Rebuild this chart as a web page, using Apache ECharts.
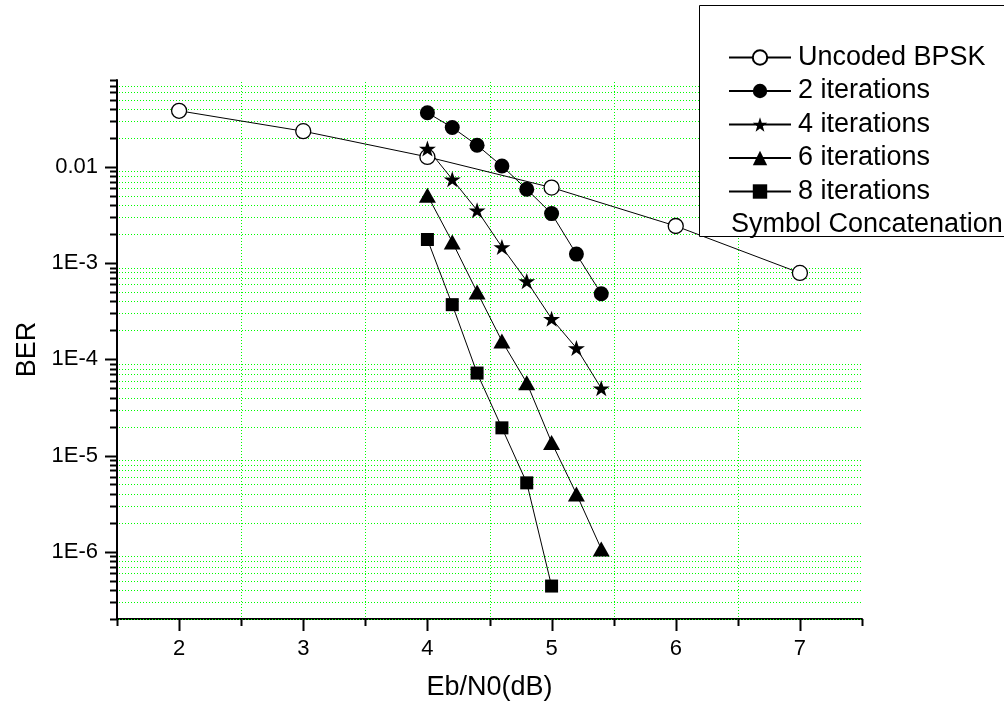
<!DOCTYPE html>
<html>
<head>
<meta charset="utf-8">
<script src="https://cdn.jsdelivr.net/npm/echarts@6/dist/echarts.min.js"></script>
<style>
  html, body { margin: 0; padding: 0; background: #fff; }
  #chart-container { width: 1004px; height: 707px; }
</style>
</head>
<body>
<div id="chart-container"></div>
<script>
// datos (Eb/N0 en dB, BER)
const ebnoBpsk = [2, 3, 4, 5, 6, 7];
const berBpsk = [0.0383, 0.0235, 0.0127, 0.0061, 0.00243, 0.00079];

const ebnoIter = [4, 4.2, 4.4, 4.6, 4.8, 5, 5.2, 5.4];
const ber2 = [0.0365, 0.0257, 0.0168, 0.0102, 0.00586, 0.00327, 0.00124, 0.00048];
const ber4 = [0.0155, 0.00744, 0.00354, 0.00147, 0.00065, 0.000264, 0.000131, 0.00005];
const ber6 = [0.00508, 0.00166, 0.0005, 0.000155, 0.000057, 0.0000137, 0.00000399, 0.00000107];
const ebno8 = [4, 4.2, 4.4, 4.6, 4.8, 5];
const ber8 = [0.00176, 0.00037, 0.000072, 0.0000194, 0.0000052, 0.00000044];

const seriesNames = ['Uncoded BPSK', '2 iterations', '4 iterations', '6 iterations', '8 iterations'];

// ejes
const xMin = 1.5, xMax = 7.5;
const yMin = 2e-7, yMax = 0.08;
const xMajorTicks = [2, 3, 4, 5, 6, 7];
const xMinorTicks = [1.5, 2.5, 3.5, 4.5, 5.5, 6.5, 7.5];
const yDecades = [1e-7, 1e-6, 1e-5, 1e-4, 1e-3, 1e-2];
const yMajorTicks = [1e-6, 1e-5, 1e-4, 1e-3, 1e-2];
const yMultipliers = [2, 3, 4, 5, 6, 7, 8, 9];

const font = 'Liberation Sans';
const gridGreen = '#00ff00';
const starPath = 'path://M50,0 L61.8,35.1 L98.1,35.1 L68.8,56.7 L79.4,91 L50,70 L20.6,91 L31.2,56.7 L1.9,35.1 L38.2,35.1 Z';

// ticks menores del eje log (2..9 x decada) dentro del rango
const yMinorTicks = [];
yDecades.forEach(d => {
  yMultipliers.forEach(m => {
    const v = +(d * m).toPrecision(3);
    if (v >= yMin && v <= yMax) yMinorTicks.push(v);
  });
});

const zip = (xs, ys) => xs.map((x, i) => [x, ys[i]]);

let myChart = echarts.init(document.getElementById('chart-container'), null, {
  renderer: 'canvas'
});

// Linea de tick + rejilla punteada para el eje Y
function yTickRender(len, withGrid) {
  return function (params, api) {
    const v = api.value(1);
    const p0 = api.coord([xMin, v]);
    const p1 = api.coord([xMax, v]);
    const y = Math.round(p0[1]) + 0.5;
    const children = [{
      type: 'line',
      shape: { x1: p0[0] - len, y1: y, x2: p0[0], y2: y },
      style: { stroke: '#000', lineWidth: 2 }
    }];
    if (withGrid && v < yMax) {
      children.push({
        type: 'line',
        shape: { x1: p0[0] + 2, y1: y, x2: p1[0], y2: y },
        style: { stroke: gridGreen, lineWidth: 1, lineDash: [1, 2] }
      });
    }
    return { type: 'group', children: children };
  };
}

// Tick + rejilla vertical para el eje X
function xTickRender(len, withGrid) {
  return function (params, api) {
    const v = api.value(0);
    const p0 = api.coord([v, yMin]);
    const p1 = api.coord([v, yMax]);
    const x = Math.round(p0[0]) + 0.5;
    const children = [{
      type: 'line',
      shape: { x1: x, y1: p0[1], x2: x, y2: p0[1] + len },
      style: { stroke: '#000', lineWidth: 2 }
    }];
    if (withGrid && v > xMin && v < xMax) {
      children.push({
        type: 'line',
        shape: { x1: x, y1: p0[1] - 2, x2: x, y2: p1[1] },
        style: { stroke: gridGreen, lineWidth: 1, lineDash: [1, 2] }
      });
    }
    return { type: 'group', children: children };
  };
}

function tickSeries(data, render) {
  return {
    type: 'custom',
    silent: true,
    z: 1,
    clip: false,
    data: data,
    renderItem: render,
    legendHoverLink: false
  };
}

function dataSeries(name, xs, ys, symbol, size, itemStyle) {
  return {
    name: name,
    type: 'line',
    z: 3,
    data: zip(xs, ys),
    symbol: symbol,
    symbolSize: size,
    symbolKeepAspect: true,
    showAllSymbol: true,
    lineStyle: { color: '#000', width: 1 },
    itemStyle: itemStyle
  };
}

const opciones = {
  animation: false,
  backgroundColor: '#fff',
  grid: { left: 117, right: 142, top: 80, bottom: 88 },
  legend: {
    data: seriesNames,
    orient: 'vertical',
    left: 728,
    top: 44,
    padding: 0,
    itemWidth: 62,
    itemHeight: 18,
    itemGap: 6.5,
    z: 12,
    selectedMode: false,
    textStyle: { fontFamily: font, fontSize: 27, color: '#000', padding: [0, 0, 0, 2] }
  },
  graphic: [
    {
      type: 'rect',
      z: 10,
      shape: { x: 699.5, y: 5.5, width: 330, height: 231 },
      style: { fill: '#fff', stroke: '#000', lineWidth: 1 }
    },
    {
      type: 'text',
      z: 12,
      left: 731,
      top: 211,
      style: { text: 'Symbol Concatenation', font: '27px "Liberation Sans"', fill: '#000' }
    }
  ],
  xAxis: {
    type: 'value',
    min: xMin,
    max: xMax,
    interval: 0.5,
    name: 'Eb/N0(dB)',
    nameLocation: 'middle',
    nameGap: 55,
    nameTextStyle: { fontFamily: font, fontSize: 27, color: '#000' },
    axisLine: { lineStyle: { color: '#000', width: 2 } },
    axisTick: { show: false },
    splitLine: { show: false },
    axisLabel: {
      margin: 19,
      fontFamily: font,
      fontSize: 22,
      color: '#000',
      formatter: v => (Number.isInteger(v) ? String(v) : '')
    }
  },
  yAxis: {
    type: 'log',
    logBase: 10,
    min: yMin,
    max: yMax,
    name: 'BER',
    nameLocation: 'middle',
    nameGap: 76,
    nameTextStyle: { fontFamily: font, fontSize: 27, color: '#000' },
    axisLine: { lineStyle: { color: '#000', width: 2 } },
    axisTick: { show: false },
    splitLine: { show: false },
    axisLabel: {
      margin: 19,
      fontFamily: font,
      fontSize: 22,
      color: '#000',
      showMinLabel: false,
      showMaxLabel: false,
      formatter: v => {
        const e = Math.round(Math.log10(v));
        return e === -2 ? '0.01' : '1E' + e;
      }
    }
  },
  series: [
    tickSeries(yMajorTicks.map(v => [xMin, v]), yTickRender(12, false)),
    tickSeries(yMinorTicks.map(v => [xMin, v]), yTickRender(7, true)),
    tickSeries(xMajorTicks.map(v => [v, yMin]), xTickRender(12, false)),
    tickSeries(xMinorTicks.map(v => [v, yMin]), xTickRender(7, true)),
    dataSeries(seriesNames[0], ebnoBpsk, berBpsk, 'circle', 15,
      { color: '#fff', borderColor: '#000', borderWidth: 1.3 }),
    dataSeries(seriesNames[1], ebnoIter, ber2, 'circle', 15, { color: '#000' }),
    dataSeries(seriesNames[2], ebnoIter, ber4, starPath, 17, { color: '#000' }),
    dataSeries(seriesNames[3], ebnoIter, ber6, 'triangle', [17, 15], { color: '#000' }),
    dataSeries(seriesNames[4], ebno8, ber8, 'rect', 13, { color: '#000' })
  ]
};

myChart.setOption(opciones, true);
window.addEventListener('resize', myChart.resize);
</script>
</body>
</html>
